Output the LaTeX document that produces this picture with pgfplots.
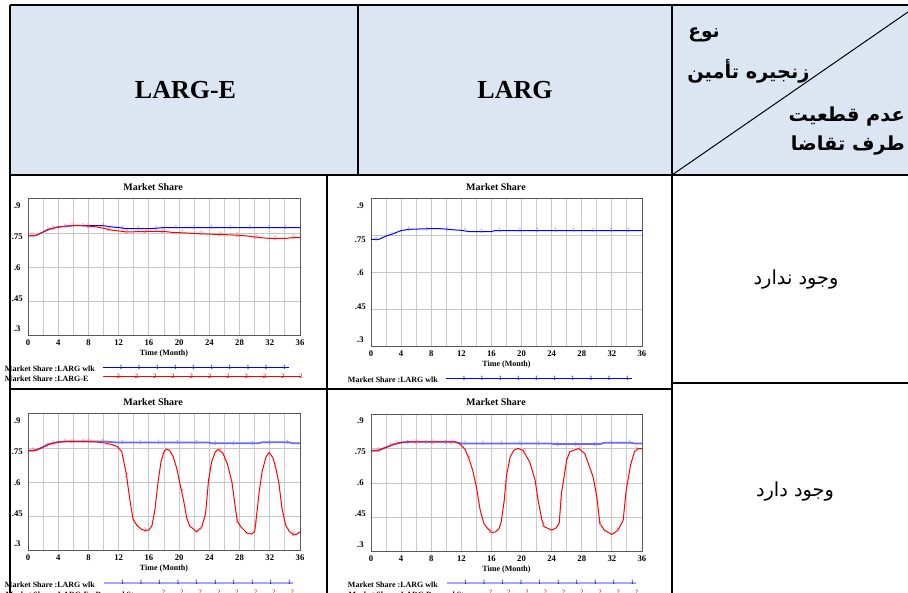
\documentclass[border=0pt]{standalone}
\usepackage{pgfplots}
\pgfplotsset{compat=1.18}
\usepackage{fontspec}
\setmainfont{Liberation Serif}
\newfontfamily\arabicfont[Script=Arabic]{DejaVu Sans}
\TeXXeTstate=1
\definecolor{hdr}{HTML}{DCE6F2}
\definecolor{vblue}{RGB}{0,0,255}
\definecolor{vred}{RGB}{255,0,0}
\definecolor{lblue}{RGB}{105,105,255}
\definecolor{legblue}{RGB}{165,165,255}
\definecolor{mblue}{RGB}{120,120,255}
\definecolor{mred}{RGB}{255,100,100}
\definecolor{navy}{RGB}{0,0,140}
\definecolor{dred}{RGB}{200,0,0}

\pgfplotsset{
  vensim/.style={
    scale only axis,
    xmin=0, xmax=36, ymin=0.3, ymax=0.9,
    xtick={0,4,...,36}, minor xtick={2,6,...,34},
    ytick={0.3,0.45,0.6,0.75,0.9},
    yticklabels={.3,.45,.6,.75,.9},
    grid=both,
    major grid style={draw=black!22, line width=0.75pt},
    minor grid style={draw=black!20, line width=0.75pt},
    axis line style={draw=black!65, line width=0.75pt},
    major tick length=0pt, minor tick length=0pt,
    /pgf/number format/assume math mode=true,
    tick label style={font=\fontsize{6.5}{7}\selectfont\bfseries},
    xticklabel style={anchor=base, yshift=-7.5pt},
    yticklabel style={anchor=center, xshift=-8pt, yshift={(2-\ticknum)*2.6pt}},
    title={Market Share},
    every axis title shift=0pt,
    title style={font=\fontsize{7.5}{8}\selectfont\bfseries, at={(0.46,1)}, anchor=base, yshift=6.5pt},
    xlabel={Time (Month)},
    xlabel style={font=\fontsize{6}{7}\selectfont\bfseries, at={(0.5,0)}, anchor=base, yshift=-15pt},
    legend plot pos=right,
    legend cell align=left,
    legend style={draw=none, fill=none, inner sep=0pt, outer sep=0pt, anchor=north west,
      font=\fontsize{6}{7}\selectfont\bfseries,
      /tikz/column sep=6pt, /tikz/row sep=-2.25pt,
      nodes={inner sep=0pt, text height=5.25pt, text depth=2.25pt}},
  },
  bluemarks/.style={only marks, mark=text, text mark={1}, text mark as node=true,
    text mark style={font=\fontsize{5}{5}\selectfont, text=mblue, inner sep=0pt}, forget plot},
  redmarks/.style={only marks, mark=text, text mark={2}, text mark as node=true,
    text mark style={font=\fontsize{5}{5}\selectfont, text=mred, inner sep=0pt}, forget plot},
  legblueA/.style={legend image code/.code={
    \draw[vblue, line width=0.75pt] (0pt,2pt) -- (139.5pt,2pt);
    \foreach \k in {0,...,9}{\node[inner sep=0pt, font=\fontsize{5}{5}\selectfont, text=navy] at (12pt+\k*13.6pt,2pt) {1};}}},
  legblueB/.style={legend image code/.code={
    \draw[legblue, line width=1.5pt] (0pt,2pt) -- (142pt,2pt);
    \foreach \k in {0,...,9}{\node[inner sep=0pt, font=\fontsize{5}{5}\selectfont, text=navy] at (12.75pt+\k*13.9pt,2pt) {1};}}},
  legredA/.style={legend image code/.code={
    \draw[vred, line width=0.75pt] (0pt,2pt) -- (148pt,2pt);
    \foreach \k in {0,...,10}{\node[inner sep=0pt, font=\fontsize{5}{5}\selectfont, text=dred] at (10pt+\k*13.7pt,2pt) {2};}}},
  legredC/.style={legend image code/.code={
    \foreach \k in {0,...,7}{\node[inner sep=0pt, font=\fontsize{5}{5}\selectfont, text=dred] at (43.5pt+\k*13.8pt,2pt) {2};}}},
  legredD/.style={legend image code/.code={
    \foreach \k in {0,...,8}{\node[inner sep=0pt, font=\fontsize{5}{5}\selectfont, text=dred] at (31.5pt+\k*13.7pt,2pt) {2};}}},
}

\begin{document}
\begin{tikzpicture}
\path[use as bounding box] (0pt,0pt) rectangle (681pt,444.75pt);
\clip (0pt,0pt) rectangle (681pt,444.75pt);
\begin{scope}[x=0.75pt,y=0.75pt]
% ---------- table frame ----------
\fill[hdr] (10,588) rectangle (908,418);
\draw[line width=1.5pt] (10,588) -- (908,588);
\draw[line width=1.5pt] (10,588) -- (10,0);
\draw[line width=1.5pt] (10,418) -- (908,418);
\draw[line width=1.5pt] (358,588) -- (358,418);
\draw[line width=1.5pt] (672,588) -- (672,0);
\draw[line width=1.5pt] (327,418) -- (327,0);
\draw[line width=1.5pt] (10,204) -- (672,204);
\draw[line width=1.5pt] (672,210) -- (908,210);
\draw[line width=0.75pt] (672,418) -- (908,581);
% ---------- header texts ----------
\node[font=\fontsize{19.5}{22}\selectfont\bfseries] at (185.5,502.5) {LARG-E};
\node[font=\fontsize{19.5}{22}\selectfont\bfseries] at (515,502.5) {LARG};
\node[anchor=base west, inner sep=0pt] at (688,555) {\arabicfont\bfseries\fontsize{14}{16}\selectfont\beginR نوع\endR};
\node[anchor=base west, inner sep=0pt] at (687,514) {\arabicfont\bfseries\fontsize{14.5}{16}\selectfont\beginR زنجیره تأمین\endR};
\node[anchor=base east, inner sep=0pt] at (905,471) {\arabicfont\bfseries\fontsize{14.5}{16}\selectfont\beginR عدم قطعیت\endR};
\node[anchor=base east, inner sep=0pt] at (905,442) {\arabicfont\bfseries\fontsize{14.5}{16}\selectfont\beginR طرف تقاضا\endR};
\node at (796,313) {\arabicfont\fontsize{14.5}{16}\selectfont\beginR وجود ندارد\endR};
\node at (795,101) {\arabicfont\fontsize{14.5}{16}\selectfont\beginR وجود دارد\endR};
\end{scope}

% ---------- chart 1: LARG-E, no uncertainty ----------
\begin{axis}[vensim, at={(21pt,192.75pt)}, anchor=south west, width=204pt, height=102.75pt,
  legend style={at={(-0.0846,-0.19)}}]
\addplot[vblue, line width=0.75pt, legblueA] coordinates {
(0,0.740) (1,0.740) (2,0.755) (2.5,0.765) (3,0.770) (4,0.777) (5,0.781) (6,0.783)
(8,0.783) (10,0.783) (11,0.778) (12,0.775) (13,0.770) (16,0.770) (17,0.772) (18,0.775) (36,0.775)};
\addlegendentry{Market Share :LARG wlk}
\addplot[vred, line width=0.75pt, legredA] coordinates {
(0,0.740) (1,0.740) (2,0.755) (3,0.770) (4,0.777) (5,0.781) (6,0.784) (7,0.784) (8,0.781)
(9,0.778) (10,0.772) (11,0.764) (12,0.760) (13,0.756) (15,0.757) (16,0.758) (18,0.758)
(19,0.754) (21,0.751) (22,0.749) (24,0.746) (26,0.744) (28,0.741) (29,0.738) (30,0.734)
(31,0.730) (32,0.727) (34,0.727) (35,0.731) (36,0.731)};
\addlegendentry{Market Share :LARG-E}
\addplot[bluemarks] coordinates {
(0.4,0.740) (2.65,0.766) (4.9,0.781) (7.3,0.783) (10,0.783) (12.5,0.773) (14.6,0.770)
(17,0.772) (19.6,0.775) (22,0.775) (24.3,0.775) (26.8,0.775) (29.4,0.775) (31.9,0.775) (34.1,0.775)};
\addplot[redmarks] coordinates {
(0.66,0.740) (3.3,0.772) (5.9,0.784) (8,0.781) (10.6,0.767) (13.05,0.756) (15.5,0.757)
(17.8,0.758) (20.4,0.752) (22.9,0.748) (25.4,0.745) (27.7,0.741) (30.1,0.734) (32.7,0.727) (35.1,0.731)};
\end{axis}

% ---------- chart 2: LARG, no uncertainty ----------
\begin{axis}[vensim, at={(278.25pt,184.5pt)}, anchor=south west, width=203.25pt, height=111pt,
  title style={at={(0.461,1)}},
  legend style={at={(-0.0849,-0.1757)}}]
\addplot[vblue, line width=0.75pt, legblueA] coordinates {
(0,0.736) (1,0.736) (2,0.750) (3,0.760) (4,0.772) (5,0.777) (6,0.778) (8,0.780) (9,0.780)
(10,0.778) (11,0.775) (12,0.773) (13,0.768) (16,0.768) (16.5,0.772) (36,0.772)};
\addlegendentry{Market Share :LARG wlk}
\addplot[bluemarks] coordinates {
(0.66,0.736) (2.8,0.758) (5,0.777) (7.4,0.779) (10.1,0.778) (12.5,0.772) (14.7,0.768)
(17.1,0.772) (19.8,0.772) (22.1,0.772) (24.5,0.772) (26.9,0.772) (29.5,0.772) (31.9,0.772) (34.2,0.772)};
\end{axis}

% ---------- chart 3: LARG-E, demand uncertainty ----------
\begin{axis}[vensim, at={(21pt,31.5pt)}, anchor=south west, width=204pt, height=102.75pt,
  legend style={at={(-0.0846,-0.197)}}]
\addplot[lblue, line width=1.3pt, legblueB] coordinates {
(0,0.739) (1,0.741) (2,0.755) (2.5,0.765) (3,0.770) (4,0.777) (5,0.780) (10,0.780)
(11,0.777) (12,0.775) (24,0.775) (24.2,0.772) (30.5,0.772) (31,0.776) (34.5,0.776) (35,0.772) (36,0.772)};
\addlegendentry{Market Share :LARG wlk}
\addplot[vred, line width=0.75pt, legredC] coordinates {
(0,0.739) (1,0.741) (2,0.755) (3,0.770) (4,0.777) (5,0.780) (8,0.780) (9,0.778) (10,0.774)
(11,0.767) (11.8,0.758) (12.4,0.736) (13,0.640) (13.5,0.520) (13.9,0.440) (14.4,0.413)
(15,0.395) (15.5,0.390) (16,0.392) (16.4,0.410) (16.8,0.480) (17.2,0.600) (17.6,0.690)
(18,0.735) (18.3,0.746) (18.7,0.742) (19.2,0.715) (19.7,0.660) (20.1,0.596) (20.6,0.520)
(21,0.445) (21.4,0.410) (22.3,0.384) (23,0.405) (23.5,0.464) (23.9,0.611) (24.3,0.690)
(24.8,0.735) (25.2,0.745) (25.8,0.728) (26.4,0.680) (27,0.600) (27.4,0.500) (27.7,0.430)
(28.2,0.405) (29,0.378) (29.6,0.374) (30,0.385) (30.2,0.440) (30.6,0.560) (31,0.650)
(31.5,0.712) (31.9,0.731) (32.4,0.710) (32.7,0.677) (33.2,0.600) (33.6,0.490) (34.1,0.413)
(34.6,0.385) (35.1,0.373) (35.5,0.372) (36,0.384)};
\addlegendentry{\makebox[0pt][l]{Market Share :LARG-E - Demand Stm}}
\addplot[bluemarks] coordinates {
(2.6,0.765) (4.9,0.780) (7.3,0.780) (9.9,0.780) (12.5,0.775) (14.9,0.775) (17.3,0.775)
(19.8,0.775) (22.3,0.775) (24.8,0.772) (27.2,0.772) (29.7,0.772) (32,0.776) (34.4,0.776)};
\addplot[redmarks] coordinates {
(0.66,0.740) (3.3,0.772) (5.9,0.780) (8.1,0.780) (10.6,0.770) (13.05,0.633) (15.5,0.390)
(17.8,0.715) (20.4,0.560) (22.9,0.400) (25.4,0.742) (27.7,0.430) (30.1,0.420) (32.7,0.677) (35.1,0.373)};
\end{axis}

% ---------- chart 4: LARG, demand uncertainty ----------
\begin{axis}[vensim, at={(278.25pt,30.75pt)}, anchor=south west, width=203.25pt, height=103.5pt,
  title style={at={(0.461,1)}},
  legend style={at={(-0.0849,-0.188)}}]
\addplot[lblue, line width=1.3pt, legblueB] coordinates {
(0,0.740) (1,0.742) (2,0.755) (3,0.768) (4,0.776) (5,0.779) (11,0.779) (12,0.772)
(24,0.772) (24.2,0.770) (30.5,0.770) (31,0.775) (34.5,0.775) (35,0.772) (36,0.772)};
\addlegendentry{Market Share :LARG wlk}
\addplot[vred, line width=0.75pt, legredD] coordinates {
(0,0.740) (1,0.742) (2,0.755) (3,0.768) (4,0.776) (5,0.779) (11,0.779) (11.5,0.776)
(12,0.764) (12.5,0.746) (13,0.707) (13.5,0.656) (14,0.583) (14.5,0.482) (15,0.424)
(15.5,0.402) (16,0.385) (16.5,0.387) (17,0.400) (17.3,0.431) (17.7,0.525) (18,0.634)
(18.5,0.714) (19,0.743) (19.5,0.750) (20.2,0.742) (21.1,0.690) (21.8,0.612) (22.2,0.525)
(22.7,0.440) (23,0.410) (24,0.395) (24.6,0.405) (25,0.424) (25.3,0.555) (26,0.700)
(26.4,0.736) (27.6,0.750) (28.4,0.728) (29.5,0.627) (30,0.540) (30.4,0.424) (31,0.395)
(32,0.376) (32.8,0.395) (33.5,0.438) (33.9,0.570) (34.5,0.680) (35,0.736) (35.5,0.750) (36,0.750)};
\addlegendentry{\makebox[0pt][l]{Market Share :LARG Demand Stm}}
\addplot[bluemarks] coordinates {
(2.6,0.764) (4.9,0.779) (7.3,0.779) (9.9,0.779) (12.5,0.772) (14.9,0.772) (17.3,0.772)
(19.8,0.772) (22.3,0.772) (24.8,0.770) (27.2,0.770) (29.7,0.770) (32,0.775) (34.4,0.775)};
\addplot[redmarks] coordinates {
(1,0.742) (3.4,0.772) (6,0.779) (8.2,0.779) (10.7,0.779) (13,0.707) (15.8,0.390)
(17.9,0.600) (20.4,0.738) (22.9,0.415) (25.2,0.520) (27.6,0.750) (30.4,0.424) (32.7,0.393) (35.2,0.745)};
\end{axis}
\end{tikzpicture}
\end{document}
